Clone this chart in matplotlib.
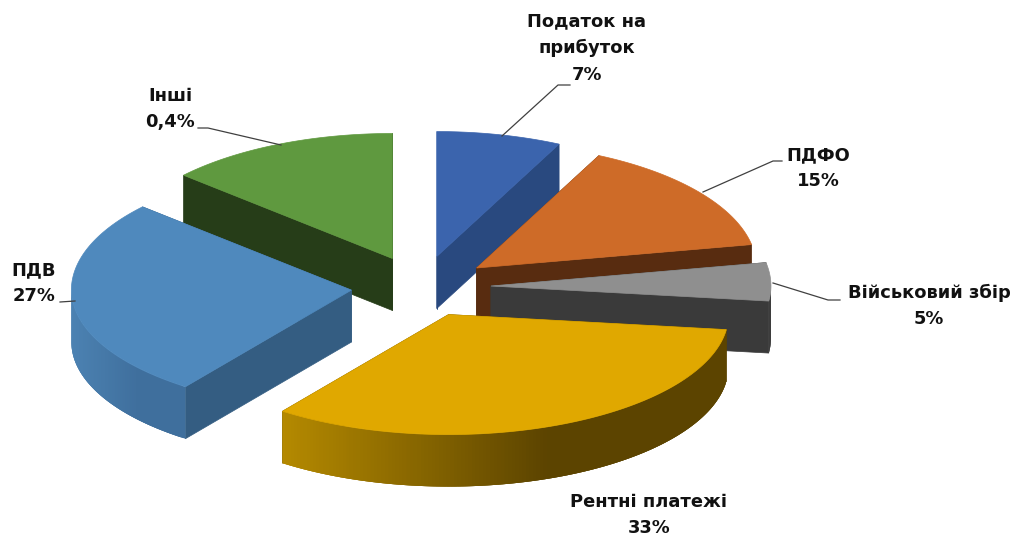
import numpy as np
import matplotlib

matplotlib.use("Agg")
import matplotlib.pyplot as plt
from matplotlib.colors import to_rgb
from matplotlib.patches import Polygon

# shares as drawn (the "Інші" slice is much bigger than its 0,4% label)
categories = ["Податок на\nприбуток", "ПДФО", "Військовий збір", "Рентні платежі", "ПДВ", "Інші"]
shares = [7.2, 14.8, 5, 33.1, 26.5, 13.4]
pct_labels = ["7%", "15%", "5%", "33%", "27%", "0,4%"]

top_colors = ["#3b64ad", "#ce6b28", "#8f8f8f", "#e0a800", "#4f89bd", "#5f993f"]
face_colors = ["#29497f", "#582c10", "#3a3a3a", "#5c4400", "#345d82", "#263d18"]
wall_dark = ["#29497f", "#582c10", "#3a3a3a", "#5c4400", "#3f6f9d", "#263d18"]
wall_light = ["#29497f", "#582c10", "#3a3a3a", "#b58a00", "#4c82b2", "#263d18"]

CX, CY = 421, 287
RX = 280
RY_BACK, RY_FRONT = 125, 120
DEPTH = 52
EXPLODE = 0.25
DRAW_ORDER = [5, 0, 1, 4, 2, 3]


def mix(c1, c2, k):
    a, b = np.array(to_rgb(c1)), np.array(to_rgb(c2))
    return tuple(a + (b - a) * k)


def ell(t):
    c = np.cos(t)
    return RX * np.sin(t), -np.where(c > 0, RY_BACK, RY_FRONT) * c


def draw_slice(ax, i, t0, t1):
    mid = (t0 + t1) / 2
    ex, ey = ell(mid)
    ax0, ay0 = CX + EXPLODE * ex, CY + EXPLODE * ey
    ts = np.linspace(t0, t1, 160)
    xs, ys = ell(ts)
    xs, ys = xs + ax0, ys + ay0

    # cut faces
    for k in (0, -1):
        quad = [(ax0, ay0), (xs[k], ys[k]), (xs[k], ys[k] + DEPTH), (ax0, ay0 + DEPTH)]
        ax.add_patch(Polygon(quad, closed=True, fc=face_colors[i], ec=face_colors[i], lw=0.5))

    # curved outer wall, only where it faces the viewer
    idx = np.where((ts > np.pi / 2) & (ts < 3 * np.pi / 2))[0]
    if len(idx) > 1:
        span = xs[idx].max() - xs[idx].min()
        for n, a in enumerate(idx[:-1]):
            # overlap the next strips so no seams show
            b = idx[min(n + 3, len(idx) - 1)]
            k = (xs[idx].max() - xs[a]) / span
            k = np.clip((k - 0.4) / 0.6, 0, 1)
            col = mix(wall_dark[i], wall_light[i], k)
            quad = [(xs[a], ys[a]), (xs[b], ys[b]), (xs[b], ys[b] + DEPTH), (xs[a], ys[a] + DEPTH)]
            ax.add_patch(Polygon(quad, closed=True, fc=col, ec="none"))

    top = np.vstack([[ax0, ay0], np.column_stack([xs, ys])])
    ax.add_patch(Polygon(top, closed=True, fc=top_colors[i], ec=top_colors[i], lw=0.5))


fig = plt.figure(figsize=(10.2, 5.33), dpi=100)
ax = fig.add_axes([0, 0, 1, 1])
ax.set_xlim(0, 1020)
ax.set_ylim(533, 0)
ax.axis("off")

edges = np.deg2rad(np.cumsum([0] + shares) / sum(shares) * 360)
for i in DRAW_ORDER:
    draw_slice(ax, i, edges[i], edges[i + 1])
# zorder follows painting order
for pos, p in enumerate(ax.patches):
    p.set_zorder(pos + 1)

# leader lines
leaders = [
    ([502, 558, 570], [136, 85, 85]),
    ([703, 773, 782], [192, 161, 161]),
    ([773, 828, 840], [283, 300, 300]),
    ([75, 60], [301, 302]),
    ([281, 208, 198], [145, 128, 128]),
]
for lx, ly in leaders:
    ax.plot(lx, ly, color="#404040", lw=0.9, zorder=5000)

# labels: name + percent, centred
label_xy = [(587, 48), (818, 168), (929, 306), (649, 515), (34, 283), (170, 109)]
for name, pct, (x, y) in zip(categories, pct_labels, label_xy):
    ax.text(x, y, name + "\n" + pct, ha="center", va="center", fontsize=12.9, fontweight="bold",
            color="#111111", linespacing=1.6, family="DejaVu Sans", zorder=6000)

fig.savefig("out.png", dpi=100)
